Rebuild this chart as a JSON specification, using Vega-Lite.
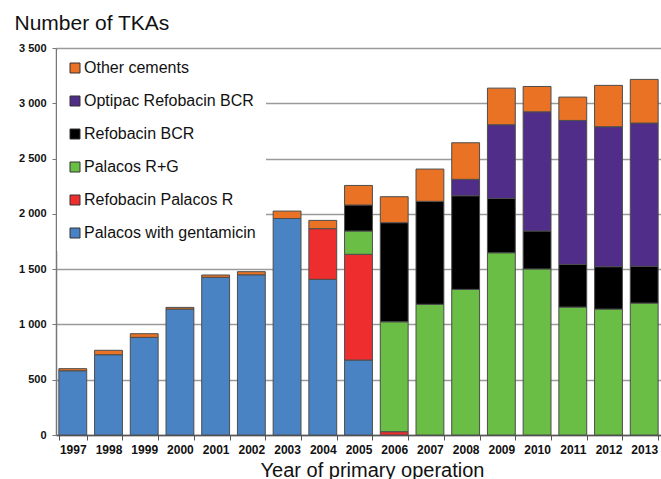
{
  "$schema": "https://vega.github.io/schema/vega-lite/v6.json",
  "width": 605,
  "height": 387,
  "autosize": {"type": "none"},
  "padding": {"left": 56, "top": 48, "right": 0, "bottom": 44},
  "background": "white",
  "config": {
    "view": {"stroke": null},
    "font": "Liberation Sans"
  },
  "data": {
    "values": [
      {"year": "1997", "cement": "Palacos with gentamicin", "n": 581},
      {"year": "1997", "cement": "Other cements", "n": 19},
      {"year": "1998", "cement": "Palacos with gentamicin", "n": 726},
      {"year": "1998", "cement": "Other cements", "n": 40},
      {"year": "1999", "cement": "Palacos with gentamicin", "n": 883},
      {"year": "1999", "cement": "Other cements", "n": 33},
      {"year": "2000", "cement": "Palacos with gentamicin", "n": 1139},
      {"year": "2000", "cement": "Other cements", "n": 15},
      {"year": "2001", "cement": "Palacos with gentamicin", "n": 1426},
      {"year": "2001", "cement": "Other cements", "n": 21},
      {"year": "2002", "cement": "Palacos with gentamicin", "n": 1449},
      {"year": "2002", "cement": "Other cements", "n": 28},
      {"year": "2003", "cement": "Palacos with gentamicin", "n": 1958},
      {"year": "2003", "cement": "Other cements", "n": 67},
      {"year": "2004", "cement": "Palacos with gentamicin", "n": 1408},
      {"year": "2004", "cement": "Refobacin Palacos R", "n": 458},
      {"year": "2004", "cement": "Other cements", "n": 75},
      {"year": "2005", "cement": "Palacos with gentamicin", "n": 678},
      {"year": "2005", "cement": "Refobacin Palacos R", "n": 956},
      {"year": "2005", "cement": "Palacos R+G", "n": 211},
      {"year": "2005", "cement": "Refobacin BCR", "n": 235},
      {"year": "2005", "cement": "Other cements", "n": 177},
      {"year": "2006", "cement": "Refobacin Palacos R", "n": 30},
      {"year": "2006", "cement": "Palacos R+G", "n": 994},
      {"year": "2006", "cement": "Refobacin BCR", "n": 896},
      {"year": "2006", "cement": "Other cements", "n": 235},
      {"year": "2007", "cement": "Palacos R+G", "n": 1182},
      {"year": "2007", "cement": "Refobacin BCR", "n": 931},
      {"year": "2007", "cement": "Other cements", "n": 292},
      {"year": "2008", "cement": "Palacos R+G", "n": 1317},
      {"year": "2008", "cement": "Refobacin BCR", "n": 847},
      {"year": "2008", "cement": "Optipac Refobacin BCR", "n": 148},
      {"year": "2008", "cement": "Other cements", "n": 331},
      {"year": "2009", "cement": "Palacos R+G", "n": 1648},
      {"year": "2009", "cement": "Refobacin BCR", "n": 492},
      {"year": "2009", "cement": "Optipac Refobacin BCR", "n": 666},
      {"year": "2009", "cement": "Other cements", "n": 331},
      {"year": "2010", "cement": "Palacos R+G", "n": 1502},
      {"year": "2010", "cement": "Refobacin BCR", "n": 343},
      {"year": "2010", "cement": "Optipac Refobacin BCR", "n": 1078},
      {"year": "2010", "cement": "Other cements", "n": 229},
      {"year": "2011", "cement": "Palacos R+G", "n": 1157},
      {"year": "2011", "cement": "Refobacin BCR", "n": 386},
      {"year": "2011", "cement": "Optipac Refobacin BCR", "n": 1302},
      {"year": "2011", "cement": "Other cements", "n": 211},
      {"year": "2012", "cement": "Palacos R+G", "n": 1139},
      {"year": "2012", "cement": "Refobacin BCR", "n": 383},
      {"year": "2012", "cement": "Optipac Refobacin BCR", "n": 1266},
      {"year": "2012", "cement": "Other cements", "n": 374},
      {"year": "2013", "cement": "Palacos R+G", "n": 1193},
      {"year": "2013", "cement": "Refobacin BCR", "n": 332},
      {"year": "2013", "cement": "Optipac Refobacin BCR", "n": 1296},
      {"year": "2013", "cement": "Other cements", "n": 395}
    ]
  },
  "transform": [
    {"calculate": "indexof(['Palacos with gentamicin','Refobacin Palacos R','Palacos R+G','Refobacin BCR','Optipac Refobacin BCR','Other cements'], datum.cement)", "as": "stackorder"}
  ],
  "mark": {"type": "bar", "stroke": "#4d4d4d", "strokeWidth": 1},
  "encoding": {
    "x": {
      "field": "year",
      "type": "ordinal",
      "scale": {"paddingInner": 0.22, "paddingOuter": 0.08},
      "axis": {
        "title": "Year of primary operation",
        "titleFontSize": 20,
        "titleFontWeight": "normal",
        "titleColor": "#111",
        "titleBaseline": "alphabetic",
        "titleY": 41,
        "titleX": 316,
        "labelAngle": 0,
        "labelFontSize": 12,
        "labelFontWeight": "bold",
        "labelColor": "#111",
        "labelPadding": 4,
        "tickBand": "extent",
        "tickSize": 5,
        "tickColor": "#555",
        "domainColor": "#555",
        "domainWidth": 1.5
      }
    },
    "y": {
      "field": "n",
      "type": "quantitative",
      "stack": "zero",
      "scale": {"domain": [0, 3500], "nice": false},
      "axis": {
        "title": "Number of TKAs",
        "titleAngle": 0,
        "titleAlign": "left",
        "titleBaseline": "alphabetic",
        "titleX": -42,
        "titleY": -19,
        "titleFontSize": 21,
        "titleFontWeight": "normal",
        "titleColor": "#111",
        "values": [0, 500, 1000, 1500, 2000, 2500, 3000, 3500],
        "labelExpr": "replace(format(datum.value, ','), ',', ' ')",
        "labelFontSize": 11,
        "labelFontWeight": "bold",
        "labelColor": "#111",
        "labelPadding": 6,
        "tickSize": 4,
        "tickColor": "#777",
        "domainColor": "#777",
        "domainWidth": 1.5,
        "grid": true,
        "gridColor": "#9a9a9a",
        "gridWidth": 1.5
      }
    },
    "color": {
      "field": "cement",
      "type": "nominal",
      "scale": {
        "domain": ["Other cements", "Optipac Refobacin BCR", "Refobacin BCR", "Palacos R+G", "Refobacin Palacos R", "Palacos with gentamicin"],
        "range": ["#E97224", "#4F2D88", "#000000", "#6ABD45", "#EE2E2E", "#4A83C4"]
      },
      "legend": {
        "title": null,
        "orient": "none",
        "legendX": 1,
        "legendY": 2,
        "padding": 10,
        "fillColor": "white",
        "symbolType": "square",
        "symbolSize": 100,
        "symbolStrokeColor": "#333",
        "symbolStrokeWidth": 1,
        "labelFontSize": 16,
        "labelColor": "#111",
        "labelOffset": 1,
        "labelLimit": 300,
        "rowPadding": 17
      }
    },
    "order": {"field": "stackorder", "type": "quantitative", "sort": "ascending"}
  }
}
